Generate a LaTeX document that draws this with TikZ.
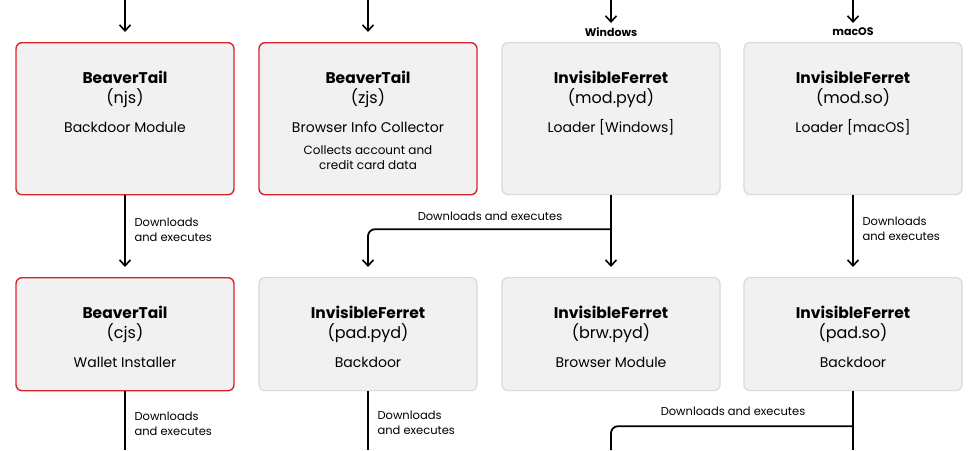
\documentclass[tikz,border=0pt]{standalone}
\usepackage{fontspec}
\setmainfont{Poppins}
\usetikzlibrary{arrows.meta, calc}
\definecolor{boxfill}{HTML}{F1F1F1}
\definecolor{boxline}{HTML}{D9D9D9}
\definecolor{alertred}{HTML}{D7262B}
\tikzset{
  box/.style={draw=boxline, fill=boxfill, line width=1.2pt, rounded corners=6pt, minimum width=218pt, anchor=north},
  redbox/.style={box, draw=alertred, line width=1.4pt},
  flow/.style={line width=1.8pt, -{Straight Barb[length=6pt, width=11pt, line width=1.6pt]}, rounded corners=7pt},
  edgelbl/.style={font=\fontsize{11.5pt}{15pt}\selectfont, align=left, anchor=west},
  oslbl/.style={font=\fontsize{11pt}{12pt}\selectfont\bfseries},
}
\newcommand{\titletxt}[4]{% box name, title, file, role
  \node[font=\fontsize{15.5pt}{17pt}\selectfont\bfseries] at ($(#1.north)+(0,35)$) {#2};
  \node[font=\fontsize{16pt}{18pt}\selectfont] at ($(#1.north)+(0,56)$) {#3};
  \node[font=\fontsize{14pt}{16pt}\selectfont] at ($(#1.north)+(0,85)$) {#4};
}
\begin{document}
\begin{tikzpicture}[x=1pt, y=-1pt]
  \useasboundingbox (0,0) rectangle (980,450);

  % top row
  \node[redbox, minimum height=152pt] (njs) at (125,42) {};
  \node[redbox, minimum height=152pt] (zjs) at (368,42) {};
  \node[box, minimum height=152pt] (modpyd) at (611,42) {};
  \node[box, minimum height=152pt] (modso) at (853,42) {};
  \titletxt{njs}{BeaverTail}{(njs)}{Backdoor Module}
  \titletxt{zjs}{BeaverTail}{(zjs)}{Browser Info Collector}
  \node[font=\fontsize{12pt}{15pt}\selectfont, align=center] at ($(zjs.north)+(0,116)$) {Collects account and\\credit card data};
  \titletxt{modpyd}{InvisibleFerret}{(mod.pyd)}{Loader [Windows]}
  \titletxt{modso}{InvisibleFerret}{(mod.so)}{Loader [macOS]}

  % second row
  \node[redbox, minimum height=113pt] (cjs) at (125,277) {};
  \node[box, minimum height=113pt] (padpyd) at (368,277) {};
  \node[box, minimum height=113pt] (brwpyd) at (611,277) {};
  \node[box, minimum height=113pt] (padso) at (853,277) {};
  \titletxt{cjs}{BeaverTail}{(cjs)}{Wallet Installer}
  \titletxt{padpyd}{InvisibleFerret}{(pad.pyd)}{Backdoor}
  \titletxt{brwpyd}{InvisibleFerret}{(brw.pyd)}{Browser Module}
  \titletxt{padso}{InvisibleFerret}{(pad.so)}{Backdoor}

  % incoming arrows
  \coordinate (in1) at (125,0);
  \coordinate (in2) at (368,0);
  \coordinate (in3) at (611,0);
  \coordinate (in4) at (853,0);
  \draw[flow] (in1) -- ($(njs.north)+(0,-10)$);
  \draw[flow] (in2) -- ($(zjs.north)+(0,-10)$);
  \draw[flow] (in3) -- ($(modpyd.north)+(0,-19)$);
  \draw[flow] (in4) -- ($(modso.north)+(0,-19)$);
  \node[oslbl] at ($(modpyd.north)+(0,-10)$) {Windows};
  \node[oslbl] at ($(modso.north)+(0,-10)$) {macOS};

  % row 1 to row 2
  \draw[flow] (njs.south) -- ($(cjs.north)+(0,-10)$);
  \node[edgelbl] at ($(njs.south)+(6,34)$) {Downloads\\and executes};
  \draw[flow] (modpyd.south) -- ($(brwpyd.north)+(0,-10)$);
  \draw[flow] ($(modpyd.south)+(0,34)$) -| ($(padpyd.north)+(0,-10)$);
  \node[font=\fontsize{11.5pt}{15pt}\selectfont] at (490,216) {Downloads and executes};
  \draw[flow] (modso.south) -- ($(padso.north)+(0,-10)$);
  \node[edgelbl] at ($(modso.south)+(6,34)$) {Downloads\\and executes};

  % outgoing
  \coordinate (out1) at (125,450);
  \coordinate (out2) at (368,450);
  \coordinate (out3) at (611,450);
  \coordinate (out4) at (853,450);
  \draw[line width=1.8pt] (cjs.south) -- (out1);
  \node[edgelbl] at ($(cjs.south)+(6,32)$) {Downloads\\and executes};
  \draw[line width=1.8pt] (padpyd.south) -- (out2);
  \node[edgelbl] at ($(padpyd.south)+(6,32)$) {Downloads\\and executes};
  \draw[line width=1.8pt] (padso.south) -- (out4);
  \draw[line width=1.8pt, rounded corners=7pt] ($(padso.south)+(0,35)$) -| (out3);
  \node[font=\fontsize{11.5pt}{15pt}\selectfont] at (733,411) {Downloads and executes};
\end{tikzpicture}
\end{document}
